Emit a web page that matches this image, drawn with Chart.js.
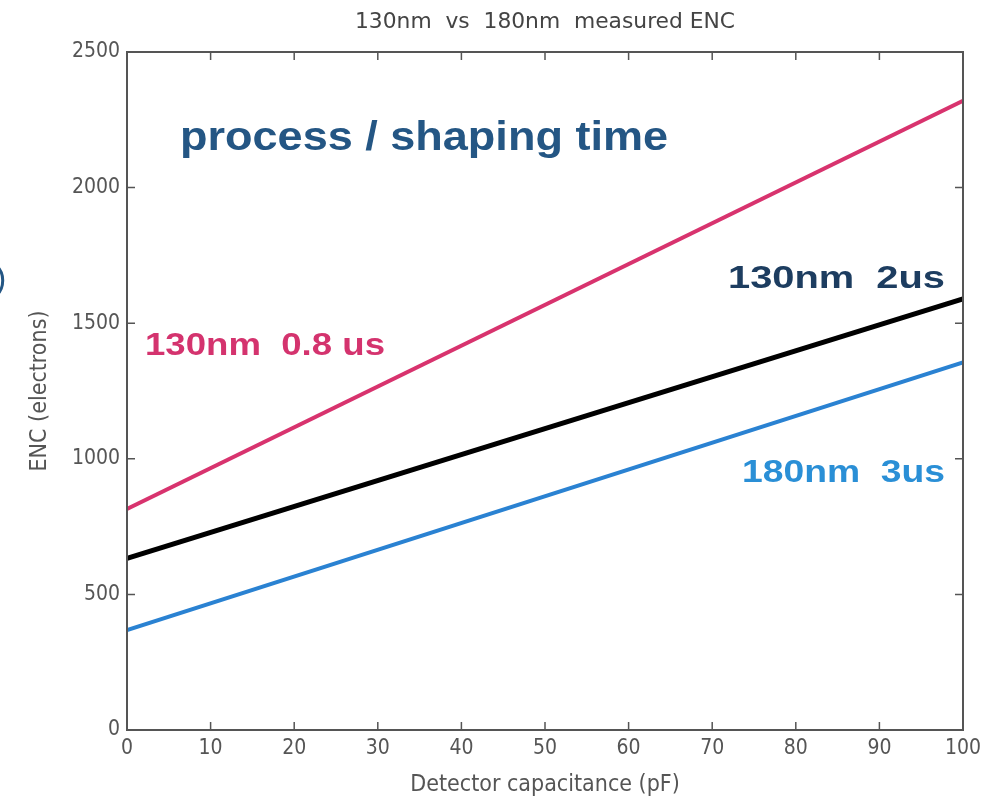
<!DOCTYPE html>
<html>
<head>
<meta charset="utf-8">
<script src="https://cdn.jsdelivr.net/npm/chart.js@4.4.1/dist/chart.umd.min.js"></script>
<style>
  html, body { margin: 0; padding: 0; background: #fff; }
  #wrap { width: 1004px; height: 799px; }
</style>
</head>
<body>
<div id="wrap"><canvas id="chart" width="1004" height="799"></canvas></div>
<script>
// ==== data ====
const capacitance = [0, 100];           // pF
const enc130nm08us = [815, 2320];       // electrons
const enc130nm2us = [633, 1590];
const enc180nm3us = [368, 1355];
const xTicks = [0, 10, 20, 30, 40, 50, 60, 70, 80, 90, 100];
const yTicks = [0, 500, 1000, 1500, 2000, 2500];

const toPoints = ys => capacitance.map((x, i) => ({ x, y: ys[i] }));

const FONT = '"DejaVu Sans Condensed", "Liberation Sans", Arial, sans-serif';
const BOLD = '"Liberation Sans", Arial, sans-serif';
const AXIS_GREY = '#555';

// squeeze/stretch a text line so it spans the width seen in the picture
function fitText(ctx, text, x, y, width) {
  const w = ctx.measureText(text).width;
  ctx.save();
  ctx.translate(x, y);
  ctx.scale(width / w, 1);
  ctx.fillText(text, 0, 0);
  ctx.restore();
}

// ==== box + inward ticks (matlab look) ====
const boxPlugin = {
  id: 'box',
  afterDraw(chart) {
    const { ctx, chartArea: a, scales } = chart;
    ctx.save();
    ctx.strokeStyle = AXIS_GREY;
    ctx.lineWidth = 2;
    ctx.strokeRect(a.left, a.top, a.right - a.left, a.bottom - a.top);
    ctx.lineWidth = 1.5;
    ctx.beginPath();
    xTicks.forEach(v => {
      const px = scales.x.getPixelForValue(v);
      ctx.moveTo(px, a.bottom); ctx.lineTo(px, a.bottom - 8);
      ctx.moveTo(px, a.top); ctx.lineTo(px, a.top + 8);
    });
    yTicks.forEach(v => {
      const py = scales.y.getPixelForValue(v);
      ctx.moveTo(a.left, py); ctx.lineTo(a.left + 8, py);
      ctx.moveTo(a.right, py); ctx.lineTo(a.right - 8, py);
    });
    ctx.stroke();
    ctx.restore();
  }
};

// ==== text annotations ====
const labelsPlugin = {
  id: 'labels',
  afterDraw(chart) {
    const { ctx } = chart;
    ctx.save();
    ctx.textBaseline = 'middle';
    ctx.textAlign = 'left';
    ctx.fillStyle = '#444';
    ctx.font = '22px ' + FONT;
    fitText(ctx, '130nm  vs  180nm  measured ENC', 355, 22, 380);

    ctx.font = 'bold 40px ' + BOLD;
    ctx.fillStyle = '#245684';
    fitText(ctx, 'process / shaping time', 180, 139, 488);

    ctx.font = 'bold 32px ' + BOLD;
    ctx.fillStyle = '#d4336e';
    fitText(ctx, '130nm  0.8 us', 145, 346, 240);
    ctx.fillStyle = '#1d3d60';
    fitText(ctx, '130nm  2us', 728, 279, 217);
    ctx.fillStyle = '#2a8fd6';
    fitText(ctx, '180nm  3us', 742, 473, 203);

    ctx.font = '34px ' + BOLD;
    ctx.fillStyle = '#245684';
    ctx.fillText(')', -5, 280);
    ctx.restore();
  }
};

new Chart(document.getElementById('chart'), {
  type: 'line',
  data: {
    datasets: [
      { label: '130nm 0.8 us', data: toPoints(enc130nm08us), borderColor: '#d8336e', borderWidth: 4 },
      { label: '130nm 2us', data: toPoints(enc130nm2us), borderColor: '#000000', borderWidth: 5 },
      { label: '180nm 3us', data: toPoints(enc180nm3us), borderColor: '#2a82d2', borderWidth: 4 }
    ]
  },
  options: {
    responsive: false,
    animation: false,
    devicePixelRatio: 1,
    elements: { point: { radius: 0 }, line: { tension: 0 } },
    layout: { padding: { top: 52, right: 41, left: 0, bottom: 0 } },
    plugins: { legend: { display: false }, tooltip: { enabled: false } },
    scales: {
      x: {
        type: 'linear', min: 0, max: 100,
        afterBuildTicks: s => { s.ticks = xTicks.map(v => ({ value: v })); },
        afterFit: s => { s.height = 69; },
        grid: { display: false, drawTicks: false },
        border: { display: false },
        ticks: { color: AXIS_GREY, font: { family: FONT, size: 21 }, padding: 6, maxRotation: 0,
                 callback: v => String(v) },
        title: { display: true, text: 'Detector capacitance (pF)', color: AXIS_GREY,
                 font: { family: FONT, size: 23 }, padding: { top: 0, bottom: 0 } }
      },
      y: {
        type: 'linear', min: 0, max: 2500,
        afterBuildTicks: s => { s.ticks = yTicks.map(v => ({ value: v })); },
        afterFit: s => { s.width = 127; },
        grid: { display: false, drawTicks: false },
        border: { display: false },
        ticks: { color: AXIS_GREY, font: { family: FONT, size: 21 }, padding: 7,
                 callback: v => String(v) },
        title: { display: true, text: 'ENC (electrons)', color: AXIS_GREY,
                 font: { family: FONT, size: 23 }, padding: { top: 26, bottom: 0 } }
      }
    }
  },
  plugins: [boxPlugin, labelsPlugin]
});
</script>
</body>
</html>
